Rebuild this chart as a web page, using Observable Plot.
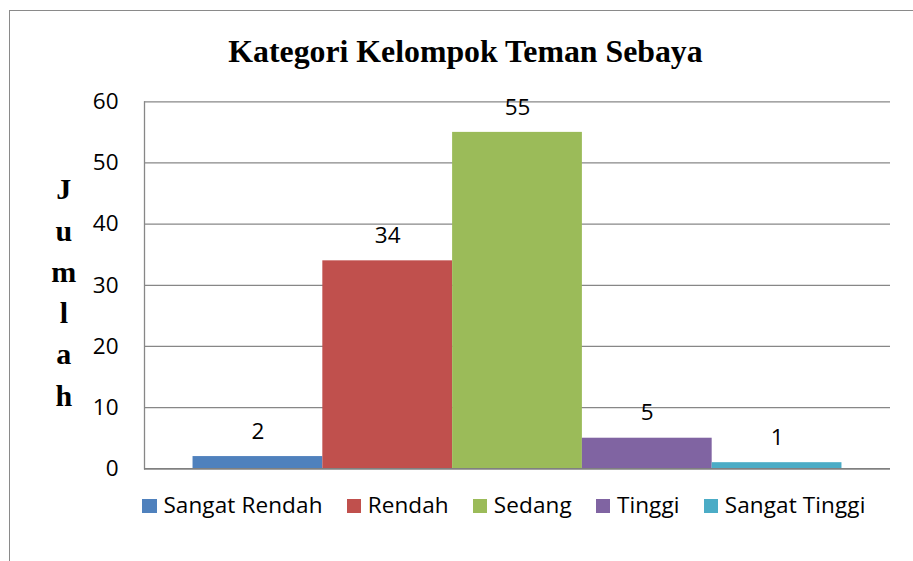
<!DOCTYPE html>
<html>
<head>
<meta charset="utf-8">
<script src="https://cdn.jsdelivr.net/npm/d3@7"></script>
<script src="https://cdn.jsdelivr.net/npm/@observablehq/plot@0.6"></script>
<style>
  html, body { margin: 0; padding: 0; background: #fff; }
  body { width: 913px; height: 561px; overflow: hidden; position: relative; }
  #border { position: absolute; left: 9px; top: 10px; width: 2000px; height: 2000px;
            border-left: 1.5px solid #8a8a8a; border-top: 1.5px solid #8a8a8a; }
  #title { position: relative; height: 80px; }
  #title span { position: absolute; top: 35.6px; left: 0; width: 913px; padding-left: 18px; box-sizing: border-box;
                text-align: center; font-family: "Liberation Serif", "Times New Roman", serif;
                font-weight: bold; font-size: 31.8px; line-height: 31.8px; color: #000; white-space: nowrap; }
  #chart { position: relative; height: 420px; }
  #chart svg { display: block; }
  #legend { position: absolute; left: 142.3px; top: 494.3px; white-space: nowrap;
            font-family: "Open Sans", sans-serif; font-size: 22.5px; line-height: 22.5px; letter-spacing: 0.12px; color: #000; }
  #legend .item { display: inline-block; margin-right: 24px; }
  #legend .sw { display: inline-block; width: 14.4px; height: 14.4px; margin-right: 6.7px; vertical-align: baseline; }
</style>
</head>
<body>
<div id="border"></div>
<div id="title"><span></span></div>
<div id="chart"></div>
<div id="legend"></div>
<script>
const titleText = "Kategori Kelompok Teman Sebaya";
const yLabel = "Jumlah";
const categories = ["Sangat Rendah", "Rendah", "Sedang", "Tinggi", "Sangat Tinggi"];
const values = [2, 34, 55, 5, 1];
const colors = ["#4F81BD", "#C0504D", "#9BBB59", "#8064A2", "#4BACC6"];
const yTicks = [0, 10, 20, 30, 40, 50, 60];

const data = categories.map((c, i) => ({category: c, value: values[i]}));

document.querySelector("#title span").textContent = titleText;

const chart = Plot.plot({
  width: 913,
  height: 420,
  marginTop: 21.3,
  marginBottom: 31.7,
  marginLeft: 144,
  marginRight: 23,
  style: {fontFamily: "'Open Sans', sans-serif", fontSize: "22px", color: "#000", background: "transparent", overflow: "visible"},
  x: {domain: categories, paddingInner: 0, paddingOuter: 0.374, round: false, axis: null},
  y: {domain: [0, 60], ticks: yTicks, label: null},
  color: {domain: categories, range: colors},
  marks: [
    Plot.gridY(yTicks, {stroke: "#878787", strokeOpacity: 1, strokeWidth: 1.3}),
    Plot.frame({anchor: "left", stroke: "#878787", strokeWidth: 1.3}),
    Plot.barY(data, {x: "category", y: "value", fill: "category", inset: 0}),
    Plot.ruleY([0], {stroke: "#808080", strokeWidth: 1.5}),
    Plot.axisY(yTicks, {tickSize: 0, tickPadding: 26, fontSize: 22.5, fill: "#000", label: null}),
    Plot.text(data, {x: "category", y: "value", text: d => String(d.value), dy: -25, fontSize: 22.5, fill: "#000"}),
    Plot.text([yLabel], {frameAnchor: "left", text: d => d.split("").join("\n"), dx: -80.7, dy: 4,
      textAnchor: "middle", lineAnchor: "middle", lineHeight: 1.377,
      fontFamily: "'Liberation Serif', 'Times New Roman', serif", fontWeight: "bold", fontSize: 30, fill: "#000"})
  ]
});
document.getElementById("chart").appendChild(chart);

const legend = document.getElementById("legend");
categories.forEach((c, i) => {
  const item = document.createElement("span");
  item.className = "item";
  const sw = document.createElement("span");
  sw.className = "sw";
  sw.style.background = colors[i];
  item.appendChild(sw);
  item.appendChild(document.createTextNode(c));
  legend.appendChild(item);
});
</script>
</body>
</html>
